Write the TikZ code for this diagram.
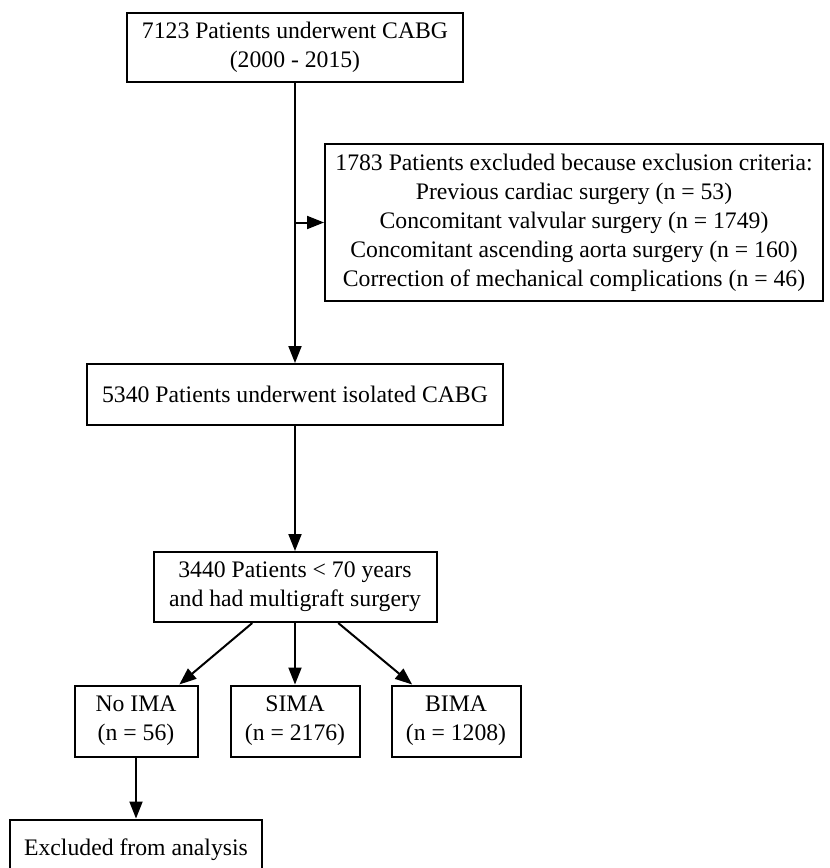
\documentclass[tikz,border=0pt]{standalone}
\usepackage{fontspec}
\setmainfont{Liberation Serif}
\usepackage{tikz}
\usetikzlibrary{arrows.meta,positioning,calc}
\tikzset{box/.style={draw,line width=1pt,align=center,inner sep=0pt,font=\fontsize{11.85}{14.5}\selectfont},
  flow/.style={draw,line width=1pt,-{Triangle[length=8.5pt,width=6.5pt]}}}

\begin{document}
\begin{tikzpicture}[x=0.5pt,y=-0.5pt]
\useasboundingbox (0,0) rectangle (830,868);
\clip (0,0) rectangle (830,868);
\node [box,minimum width=168pt,minimum height=34.5pt] (start) at (295,47.5) {7123 Patients underwent CABG\\(2000 - 2015)};
\node [box,minimum width=249pt,minimum height=78.5pt] (excl) at (574,222.5) {1783 Patients excluded because exclusion criteria:\\Previous cardiac surgery (n = 53)\\Concomitant valvular surgery (n = 1749)\\Concomitant ascending aorta surgery (n = 160)\\Correction of mechanical complications (n = 46)};
\node [box,minimum width=208pt,minimum height=30.5pt] [below=140pt of start] (iso) {5340 Patients underwent isolated CABG};
\node [box,minimum width=141.5pt,minimum height=35pt] [below=62.5pt of iso] (sel) {3440 Patients < 70 years\\and had multigraft surgery};
\node [box,minimum width=64.5pt,minimum height=35.5pt] [below=30.75pt of sel] (sima) {SIMA\\(n = 2176)};
\node [box,minimum width=61.5pt,minimum height=35.5pt] [left=15.5pt of sima] (noima) {No IMA\\(n = 56)};
\node [box,minimum width=64.5pt,minimum height=35.5pt] [right=15pt of sima] (bima) {BIMA\\(n = 1208)};
\node [box,minimum width=126pt,minimum height=30.5pt] [below=30.5pt of noima] (out) {Excluded from analysis};
\coordinate (split) at (start |- excl.west);
\draw [flow] (start) -- (iso);
\draw [flow] (split) -- (excl);
\draw [flow] (iso) -- (sel);
\draw [flow] (sel) -- (noima);
\draw [flow] (sel) -- (sima);
\draw [flow] (sel) -- (bima);
\draw [flow] (noima) -- (out);
\end{tikzpicture}
\end{document}
